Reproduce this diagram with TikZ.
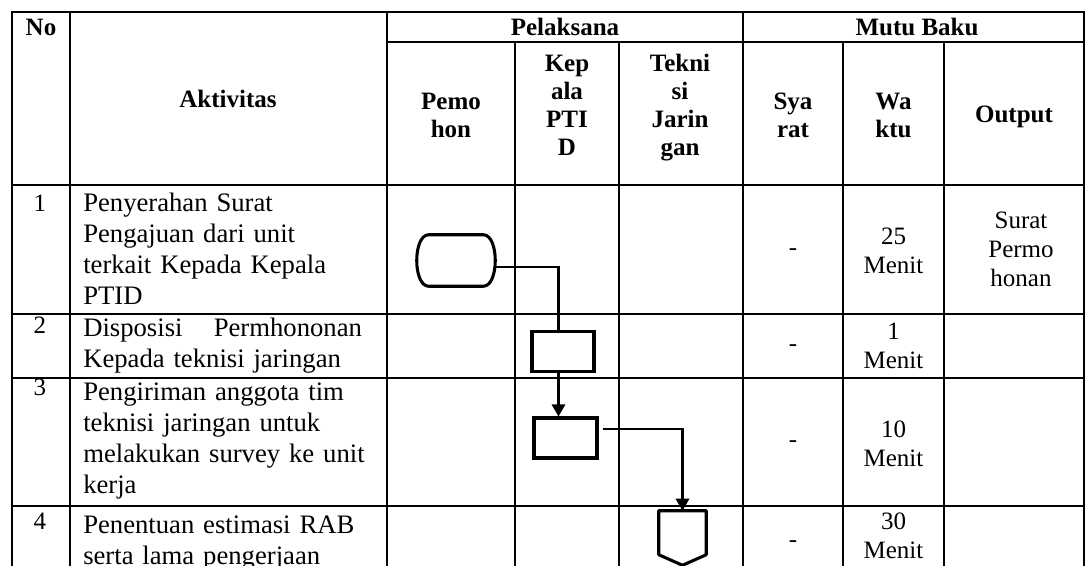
\documentclass[tikz,border=0pt]{standalone}
\usepackage{fontspec}
\setmainfont{Liberation Serif}
\usetikzlibrary{calc,arrows.meta}
\begin{document}
\begin{tikzpicture}[x=0.75pt,y=-0.75pt,
  hd/.style={font=\fontsize{18.75}{21}\selectfont\bfseries, align=center, anchor=base, inner sep=0pt},
  hdm/.style={hd, text width=70pt},
  bt/.style={font=\fontsize{20}{23.25}\selectfont, align=left, anchor=base west, inner sep=0pt, text width=215pt},
  num/.style={font=\fontsize{18.75}{21}\selectfont, anchor=base, inner sep=0pt},
  rc/.style={font=\fontsize{18.75}{21.4}\selectfont, align=center, anchor=base, inner sep=0pt, text width=70pt},
  vln/.style={line width=1.5pt},
  hln/.style={line width=1pt},
  procbox/.style={draw, line width=2.3pt, inner sep=0pt, minimum width=46.5pt, minimum height=29.5pt},
  ghost/.style={inner sep=0pt},
  shapeline/.style={line width=2.3pt, line join=round},
  conn/.style={line width=1.6pt},
  arr/.style={conn, -{Triangle[width=10pt,length=9pt]}}
]
\useasboundingbox (0,0) rectangle (1086,566);
% ---- table grid ----
\draw[vln] (12,12) -- (1084,12);
\draw[hln] (387,42) -- (1084,42);
\draw[hln] (12,185) -- (1084,185);
\draw[hln] (12,314) -- (1084,314);
\draw[hln] (12,378) -- (1084,378);
\draw[hln] (12,506) -- (1084,506);
\foreach \x in {12,70,387,743,1084} \draw[vln] (\x,11) -- (\x,567);
\foreach \x in {515,619,843,944} \draw[vln] (\x,42) -- (\x,567);
% ---- header ----
\node[hd] (hno) at (41,36) {No};
\node[hd] (hakt) at (228,108) {Aktivitas};
\node[hd] (hpel) at (565,36) {Pelaksana};
\node[hd] (hmutu) at (917,36) {Mutu Baku};
\node[hdm] (hpem) at (451,110) {Pemo\\hon};
\node[hdm] (hkep) at (567,72) {Kep\\ala\\PTI\\D};
\node[hdm] (htek) at (680,72) {Tekni\\si\\Jarin\\gan};
\node[hdm] (hsya) at (793,110) {Sya\\rat};
\node[hdm] (hwak) at (893.5,110) {Wa\\ktu};
\node[hd] (hout) at (1014,123) {Output};
% ---- body: numbers ----
\node[num] (n1) at (40,212) {1};
\node[num] (n2) at (40,334) {2};
\node[num] (n3) at (40,396) {3};
\node[num] (n4) at (40,530) {4};
% ---- body: activities ----
\node[bt] (a1) at (83,212) {Penyerahan Surat\\Pengajuan dari unit\\terkait Kepada Kepala\\PTID};
\node[bt, text width=209pt] (a2) at (83,337) {Disposisi\hfill Permhononan\\Kepada teknisi jaringan};
\node[bt] (a3) at (83,401) {Pengiriman anggota tim\\teknisi jaringan untuk\\melakukan survey ke unit\\kerja};
\node[bt] (a4) at (83,534) {Penentuan estimasi RAB\\serta lama pengerjaan};
% ---- syarat ----
\node[num] (s1) at (793,256) {-};
\node[num] (s2) at (793,352) {-};
\node[num] (s3) at (793,448) {-};
\node[num] (s4) at (793,548) {-};
% ---- waktu ----
\node[rc] (w1) at (893.5,245) {25\\Menit};
\node[rc] (w2) at (893.5,340) {1\\Menit};
\node[rc] (w3) at (893.5,438) {10\\Menit};
\node[rc] (w4) at (893.5,530) {30\\Menit};
% ---- output ----
\node[rc] (o1) at (1021,229) {Surat\\Permo\\honan};
% ---- flow shapes ----
\node[ghost, minimum width=58.5pt, minimum height=38.25pt] (t1) at (456,260.5) {};
\draw[shapeline] ($(t1.north west)+(12,0)$) -- ($(t1.north east)+(-12,0)$)
  .. controls ($(t1.north east)+(4,0)$) and ($(t1.south east)+(4,0)$) .. ($(t1.south east)+(-12,0)$)
  -- ($(t1.south west)+(12,0)$)
  .. controls ($(t1.south west)+(-4,0)$) and ($(t1.north west)+(-4,0)$) .. ($(t1.north west)+(12,0)$) -- cycle;
\node[procbox] (b2) at (563,351.5) {};
\node[procbox, minimum width=47.25pt, minimum height=30pt] (b3) at (565.5,438) {};
\node[ghost, minimum width=35.25pt, minimum height=40.5pt] (off) at (682.5,538) {};
\draw[shapeline] (off.north west) -- (off.north east) -- ($(off.north east)+(0,44)$)
  -- (off.south) -- ($(off.north west)+(0,44)$) -- cycle;
% ---- connectors ----
\draw[conn] ($(t1.east)+(0,6.5)$) -| ($(b2.north)+(-4.5,0)$);
\draw[arr] ($(b2.south)+(-4.5,0)$) -- ($(b3.north)+(-7,0)$);
\draw[arr] ($(b3.east)+(4,-9)$) -| (off.north);
\end{tikzpicture}
\end{document}
